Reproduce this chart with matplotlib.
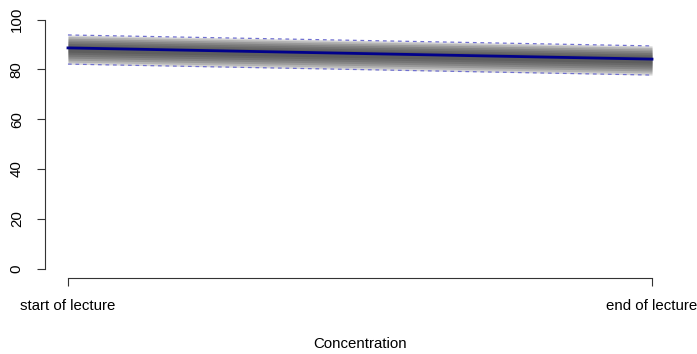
import numpy as np
import matplotlib.pyplot as plt

# time points and labels
x = [1, 2]
xlabels = ['start of lecture', 'end of lecture']
yticks = [0, 20, 40, 60, 80, 100]

# mean concentration and outer interval
mean_line = [88.6, 84.1]
upper = [93.8, 89.4]
lower = [82.1, 77.7]

# nested intervals (outer -> inner) giving the shaded spread
band_lo_start = [82.1, 82.9, 83.7, 84.5, 85.3, 86.1, 86.9]
band_hi_start = [93.8, 93.2, 92.5, 91.8, 91.1, 90.4, 89.7]
band_lo_end = [77.7, 78.5, 79.3, 80.1, 80.9, 81.7, 82.5]
band_hi_end = [89.4, 88.8, 88.1, 87.4, 86.7, 86.0, 85.3]

plt.rcParams['font.family'] = ['Liberation Sans', 'DejaVu Sans']
fs = 10.8

fig = plt.figure(figsize=(6.97, 3.54), dpi=100)
ax = fig.add_axes([0.064, 0.2133, 0.905, 0.7597])

for lo0, hi0, lo1, hi1 in zip(band_lo_start, band_hi_start, band_lo_end, band_hi_end):
    ax.fill_between(x, [lo0, lo1], [hi0, hi1], color='#3a3a3a', alpha=0.21, lw=0)

ax.plot(x, upper, color='#7070d0', lw=0.9, ls=(0, (3, 3)))
ax.plot(x, lower, color='#7070d0', lw=0.9, ls=(0, (3, 3)))
ax.plot(x, mean_line, color='#00008b', lw=2)

ax.set_xlim(0.96, 2.04)
ax.set_ylim(-4, 104)
ax.set_xticks(x)
ax.set_xticklabels(xlabels, fontsize=fs)
ax.set_yticks(yticks)
ax.set_yticklabels([str(v) for v in yticks], fontsize=fs, rotation=90, va='center')
ax.set_xlabel('Concentration', fontsize=fs, labelpad=17)

for s in ['top', 'right']:
    ax.spines[s].set_visible(False)
ax.spines['left'].set_bounds(0, 100)
ax.spines['bottom'].set_bounds(1, 2)
for s in ['left', 'bottom']:
    ax.spines[s].set_color('#333333')
    ax.spines[s].set_linewidth(0.8)
ax.tick_params(length=6, width=0.8, color='#333333', pad=9)

fig.savefig('out.png', dpi=100)
